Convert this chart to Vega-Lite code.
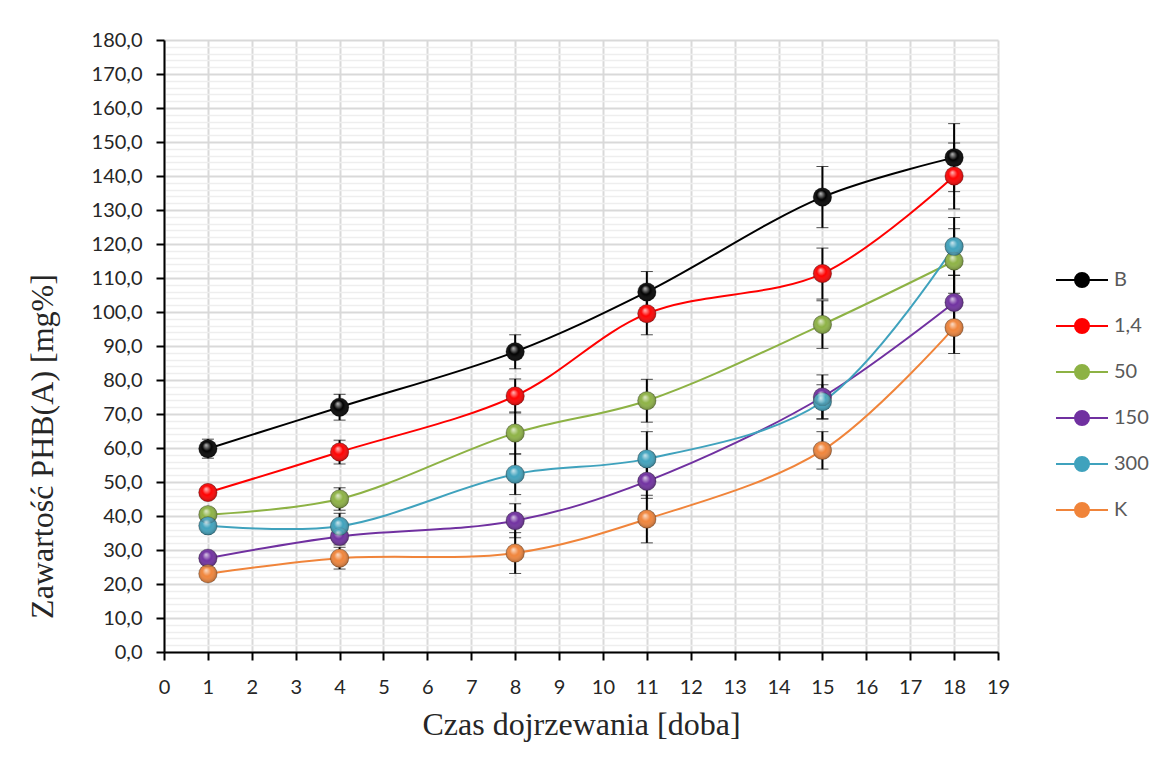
{
  "$schema": "https://vega.github.io/schema/vega-lite/v6.json",
  "width": 834,
  "height": 612,
  "autosize": {"type": "none"},
  "padding": {"left": 164, "top": 40, "right": 165, "bottom": 119},
  "background": "white",
  "config": {
    "view": {"stroke": null},
    "axis": {"labelFont": "Lato", "labelFontSize": 20, "labelColor": "#262626", "titleFont": "Liberation Serif", "titleFontSize": 32, "titleFontWeight": "normal", "titleColor": "#262626"}
  },
  "data": {
    "values": [
      {"series": "B", "day": 1, "value": 59.8, "err": 2.8},
      {"series": "B", "day": 4, "value": 72.0, "err": 3.8},
      {"series": "B", "day": 8, "value": 88.3, "err": 5.0},
      {"series": "B", "day": 11, "value": 105.9, "err": 6.0},
      {"series": "B", "day": 15, "value": 133.8, "err": 9.0},
      {"series": "B", "day": 18, "value": 145.4, "err": 10.0},
      {"series": "1,4", "day": 1, "value": 46.9, "err": 1.5},
      {"series": "1,4", "day": 4, "value": 58.8, "err": 3.5},
      {"series": "1,4", "day": 8, "value": 75.3, "err": 5.0},
      {"series": "1,4", "day": 11, "value": 99.5, "err": 6.2},
      {"series": "1,4", "day": 15, "value": 111.3, "err": 7.5},
      {"series": "1,4", "day": 18, "value": 140.0, "err": 9.7},
      {"series": "50", "day": 1, "value": 40.4, "err": 1.5},
      {"series": "50", "day": 4, "value": 45.0, "err": 3.3},
      {"series": "50", "day": 8, "value": 64.4, "err": 6.2},
      {"series": "50", "day": 11, "value": 73.9, "err": 6.3},
      {"series": "50", "day": 15, "value": 96.3, "err": 7.0},
      {"series": "50", "day": 18, "value": 115.0, "err": 9.5},
      {"series": "150", "day": 1, "value": 27.6, "err": 1.5},
      {"series": "150", "day": 4, "value": 34.0, "err": 2.5},
      {"series": "150", "day": 8, "value": 38.6, "err": 5.0},
      {"series": "150", "day": 11, "value": 50.2, "err": 5.0},
      {"series": "150", "day": 15, "value": 75.0, "err": 6.5},
      {"series": "150", "day": 18, "value": 102.8, "err": 8.0},
      {"series": "300", "day": 1, "value": 37.1, "err": 1.5},
      {"series": "300", "day": 4, "value": 37.0, "err": 3.8},
      {"series": "300", "day": 8, "value": 52.3, "err": 6.0},
      {"series": "300", "day": 11, "value": 56.8, "err": 8.0},
      {"series": "300", "day": 15, "value": 73.6, "err": 5.0},
      {"series": "300", "day": 18, "value": 119.3, "err": 8.5},
      {"series": "K", "day": 1, "value": 23.0, "err": 1.5},
      {"series": "K", "day": 4, "value": 27.6, "err": 3.2},
      {"series": "K", "day": 8, "value": 29.1, "err": 6.0},
      {"series": "K", "day": 11, "value": 39.1, "err": 7.0},
      {"series": "K", "day": 15, "value": 59.3, "err": 5.5},
      {"series": "K", "day": 18, "value": 95.4, "err": 7.6}
    ]
  },
  "encoding": {
    "x": {
      "field": "day", "type": "quantitative",
      "scale": {"domain": [0, 19], "nice": false, "zero": false},
      "axis": {
        "title": "Czas dojrzewania [doba]",
        "values": [0,1,2,3,4,5,6,7,8,9,10,11,12,13,14,15,16,17,18,19],
        "grid": true, "gridColor": "#d9d9d9", "gridWidth": 2,
        "domainColor": "#000000", "domainWidth": 2,
        "tickColor": "#000000", "tickWidth": 2, "tickSize": 8,
        "labelPadding": 17, "labelFlush": false, "labelOverlap": false,
        "titlePadding": 12
      }
    },
    "y": {
      "field": "value", "type": "quantitative",
      "scale": {"domain": [0, 180], "nice": false},
      "axis": {
        "title": "Zawartość PHB(A) [mg%]",
        "values": [0,2,4,6,8,10,12,14,16,18,20,22,24,26,28,30,32,34,36,38,40,42,44,46,48,50,52,54,56,58,60,62,64,66,68,70,72,74,76,78,80,82,84,86,88,90,92,94,96,98,100,102,104,106,108,110,112,114,116,118,120,122,124,126,128,130,132,134,136,138,140,142,144,146,148,150,152,154,156,158,160,162,164,166,168,170,172,174,176,178,180],
        "labelExpr": "datum.value % 10 === 0 ? replace(format(datum.value, '.1f'), '.', ',') : ''",
        "labelOverlap": false, "labelFlush": false,
        "grid": true,
        "gridColor": {"condition": {"test": "datum.value % 10 === 0", "value": "#d9d9d9"}, "value": "#eeeeee"},
        "gridWidth": {"condition": {"test": "datum.value % 10 === 0", "value": 2}, "value": 1.5},
        "domainColor": "#000000", "domainWidth": 2,
        "tickColor": "#000000", "tickWidth": 2, "tickSize": 8,
        "tickOpacity": {"condition": {"test": "datum.value % 10 === 0", "value": 1}, "value": 0},
        "labelPadding": 14,
        "titleX": -122, "titleY": 406, "titleAlign": "center", "titleBaseline": "middle", "titleAngle": -90
      }
    }
  },
  "layer": [
    {
      "mark": {"type": "line", "interpolate": "catmull-rom", "strokeWidth": 2},
      "encoding": {
        "color": {
          "field": "series", "type": "nominal",
          "scale": {"domain": ["B", "1,4", "50", "150", "300", "K"], "range": ["#000000", "#ff0000", "#8db244", "#7030a0", "#3fa2bd", "#f0843a"]},
          "legend": {
            "title": null, "orient": "none", "legendX": 891, "legendY": 213,
            "symbolType": "M-1,0H-0.27M0.27,0H1M-0.27,0A0.27,0.27,0,1,1,0.27,0A0.27,0.27,0,1,1,-0.27,0Z",
            "symbolSize": 2704, "symbolStrokeWidth": 2,
            "labelFont": "Lato", "labelFontSize": 20, "labelColor": "#595959", "labelOffset": 5,
            "rowPadding": 7,
            "encode": {"symbols": {"update": {"fill": {"scale": "color", "field": "value"}, "stroke": {"scale": "color", "field": "value"}, "strokeWidth": {"value": 2}}}}
          }
        }
      }
    },
    {
      "mark": {"type": "errorbar", "ticks": {"size": 12, "color": "#000000", "strokeWidth": 2.5}, "rule": {"color": "#000000", "strokeWidth": 2}},
      "encoding": {
        "y": {"field": "value", "type": "quantitative"},
        "yError": {"field": "err"}
      }
    },
    {
      "mark": {"type": "point", "filled": true, "opacity": 1, "size": 340, "stroke": "#000000", "strokeOpacity": 0.25, "strokeWidth": 1},
      "encoding": {
        "color": {"field": "series", "type": "nominal"}
      }
    },
    {
      "mark": {
        "type": "point", "filled": true, "opacity": 1, "size": 340,
        "fill": {"gradient": "radial", "x1": 0.4, "y1": 0.3, "r1": 0, "x2": 0.5, "y2": 0.5, "r2": 0.55,
          "stops": [{"offset": 0, "color": "rgba(255,255,255,0.75)"}, {"offset": 0.45, "color": "rgba(255,255,255,0)"}, {"offset": 1, "color": "rgba(0,0,0,0.35)"}]}
      },
      "encoding": {}
    }
  ]
}
